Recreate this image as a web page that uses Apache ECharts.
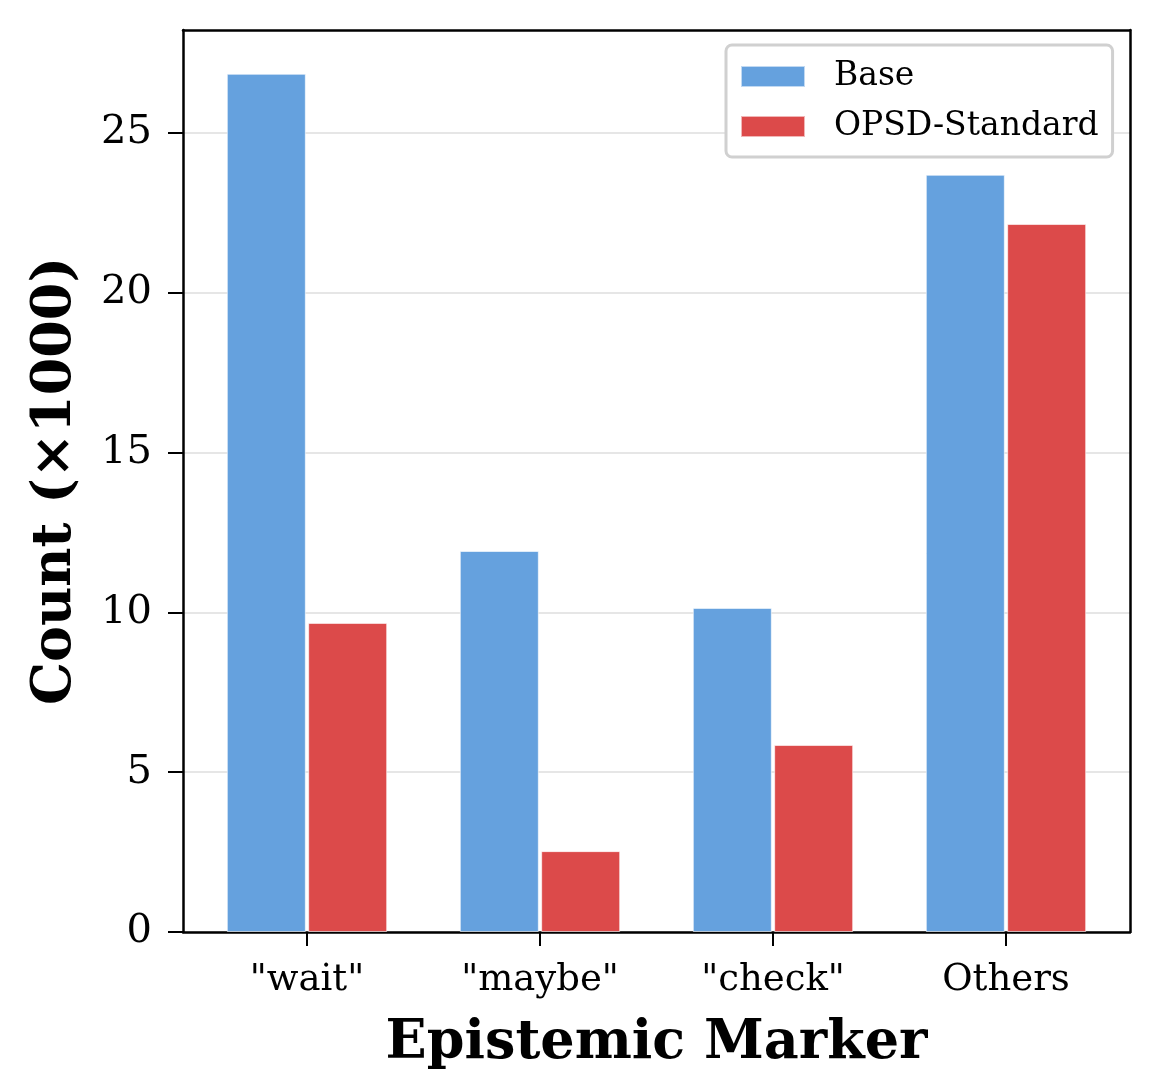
<!DOCTYPE html>
<html>
<head>
<meta charset="utf-8">
<script src="https://cdn.jsdelivr.net/npm/echarts@6/dist/echarts.min.js"></script>
<style>
  html, body { margin: 0; padding: 0; background: #fff; }
  #chart { width: 1160px; height: 1069px; }
</style>
</head>
<body>
<div id="chart"></div>
<script>
  // data (counts in thousands)
  var categories = ['"wait"', '"maybe"', '"check"', 'Others'];
  var baseValues = [26.85, 11.92, 10.14, 23.69];
  var opsdValues = [9.67, 2.53, 5.85, 22.15];
  var yTicks = [0, 5, 10, 15, 20, 25];
  var yMax = 28.22;

  var font = 'DejaVu Serif';
  var spine = { show: true, onZero: false, lineStyle: { color: '#000', width: 2.5 } };
  var chart = echarts.init(document.getElementById('chart'));

  chart.setOption({
    backgroundColor: '#fff',
    animation: false,
    legend: {
      data: ['Base', 'OPSD-Standard'],
      orient: 'vertical',
      left: 726,
      top: 45,
      padding: [15, 14, 14, 14],
      itemWidth: 64,
      itemHeight: 21,
      itemGap: 17,
      icon: 'rect',
      backgroundColor: '#fff',
      borderColor: '#d0d0d0',
      borderWidth: 3,
      borderRadius: 6,
      textStyle: {
        fontFamily: font,
        fontSize: 33,
        color: '#000',
        padding: [0, 0, 0, 24]
      }
    },
    grid: [
      // frame + y axis
      { left: 183, top: 30, width: 947, height: 902, outerBoundsMode: 'none' },
      // bars (narrower so the category centres land like the reference)
      { left: 190.5, top: 30, width: 932, height: 902, outerBoundsMode: 'none' }
    ],
    xAxis: [
      { gridIndex: 0, type: 'value', min: 0, max: 1, position: 'bottom', axisLine: spine, axisTick: { show: false }, axisLabel: { show: false }, splitLine: { show: false } },
      { gridIndex: 0, type: 'value', min: 0, max: 1, position: 'top', axisLine: spine, axisTick: { show: false }, axisLabel: { show: false }, splitLine: { show: false } },
      {
        gridIndex: 1,
        type: 'category',
        data: categories,
        axisLine: { show: false },
        axisTick: { show: true, alignWithLabel: true, length: 14, lineStyle: { color: '#000', width: 2 } },
        axisLabel: { fontFamily: font, fontSize: 37, color: '#000', margin: 30 },
        name: 'Epistemic Marker',
        nameLocation: 'middle',
        nameGap: 85,
        nameTextStyle: { fontFamily: font, fontSize: 54, fontWeight: 'bold', color: '#000' }
      }
    ],
    yAxis: [
      {
        gridIndex: 0,
        type: 'value',
        min: 0,
        max: yMax,
        position: 'left',
        axisLine: spine,
        axisTick: { show: true, length: 15, customValues: yTicks, lineStyle: { color: '#000', width: 2 } },
        axisLabel: { fontFamily: font, fontSize: 40, color: '#000', margin: 31, customValues: yTicks },
        splitLine: { show: true, lineStyle: { color: '#e6e6e6', width: 2 } },
        name: 'Count (×1000)',
        nameLocation: 'middle',
        nameGap: 100,
        nameTextStyle: { fontFamily: font, fontSize: 54, fontWeight: 'bold', color: '#000' }
      },
      { gridIndex: 0, type: 'value', min: 0, max: yMax, position: 'right', axisLine: spine, axisTick: { show: false }, axisLabel: { show: false }, splitLine: { show: false } },
      { gridIndex: 1, type: 'value', min: 0, max: yMax, show: false }
    ],
    series: [
      {
        name: 'Base',
        type: 'bar',
        xAxisIndex: 2,
        yAxisIndex: 2,
        data: baseValues,
        barWidth: 79,
        barGap: '3%',
        itemStyle: { color: '#65a1de', borderColor: 'rgba(255,255,255,0.6)', borderWidth: 1 }
      },
      {
        name: 'OPSD-Standard',
        type: 'bar',
        xAxisIndex: 2,
        yAxisIndex: 2,
        data: opsdValues,
        barWidth: 79,
        barGap: '3%',
        itemStyle: { color: '#dc4a4a', borderColor: 'rgba(255,255,255,0.6)', borderWidth: 1 }
      }
    ]
  });
</script>
</body>
</html>
